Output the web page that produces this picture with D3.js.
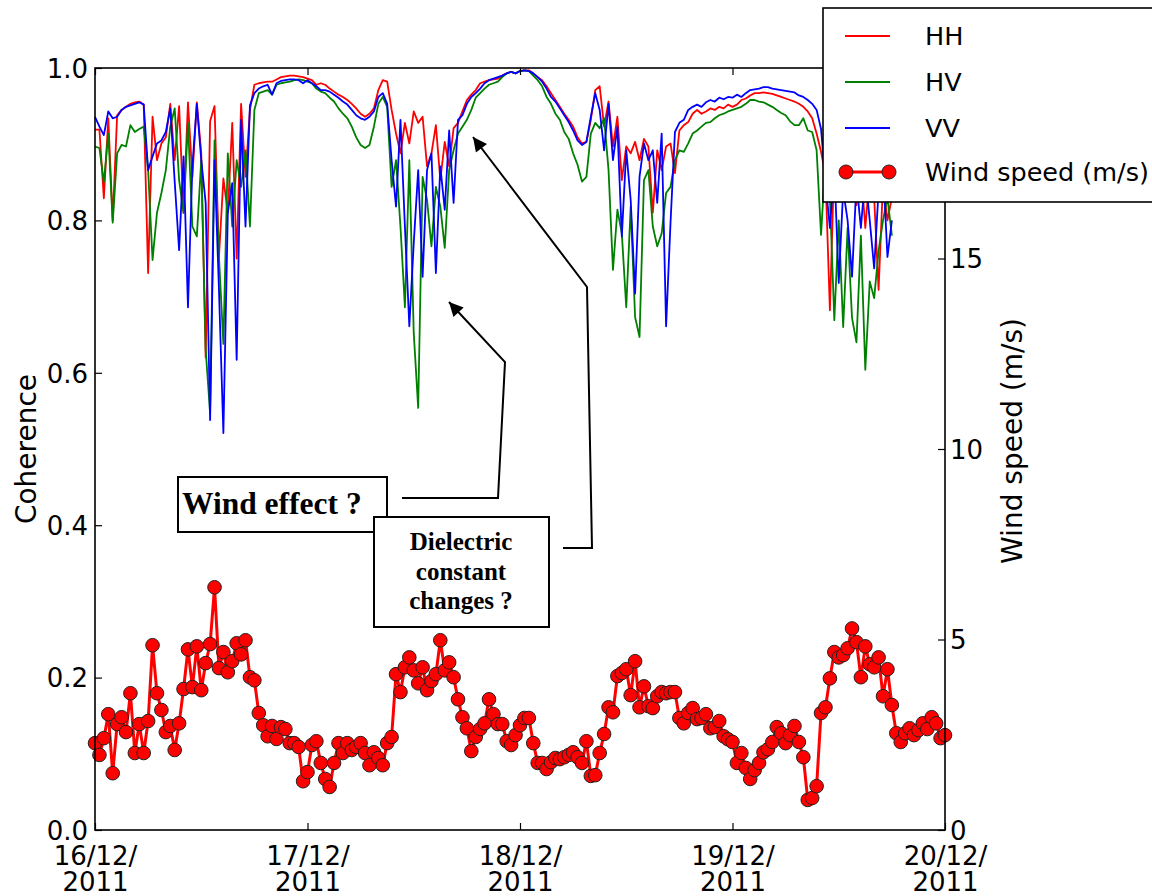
<!DOCTYPE html>
<html>
<head>
<meta charset="utf-8">
<script src="https://cdn.jsdelivr.net/npm/d3@7"></script>
<style>
  body { margin: 0; background: #fff; }
  svg { display: block; }
  .tick text { font-family: "DejaVu Sans", sans-serif; font-size: 26px; fill: #000; }
  .lbl { font-family: "DejaVu Sans", sans-serif; font-size: 25.5px; fill: #000; }
  .title { font-family: "DejaVu Sans", sans-serif; font-size: 28px; fill: #000; }
  .note { font-family: "Liberation Serif", "Times New Roman", serif; font-weight: bold; fill: #000; }
</style>
</head>
<body>
<svg id="chart" width="1152" height="896"></svg>
<script>
// coherence every 30 min from 16/12/2011 00:00 (ends a bit before 20/12)
var HH = [
  0.919,0.919,0.829,0.934,0.80,0.938,0.945,0.949,0.953,0.955,
  0.956,0.952,0.731,0.936,0.879,0.901,0.909,0.953,0.879,0.95,
  0.81,0.955,0.857,0.955,0.888,0.62,0.93,0.95,0.752,0.855,
  0.81,0.928,0.75,0.953,0.857,0.945,0.978,0.98,0.981,0.982,
  0.982,0.985,0.988,0.989,0.99,0.99,0.989,0.988,0.986,
  0.984,0.978,0.98,0.978,0.973,0.969,0.965,0.962,0.958,0.953,
  0.947,0.94,0.936,0.94,0.947,0.971,0.984,0.982,0.945,0.914,
  0.888,0.928,0.901,0.943,0.928,0.936,0.871,0.888,0.925,0.853,
  0.903,0.871,0.921,0.928,0.943,0.958,0.965,0.971,0.98,0.982,
  0.984,0.985,0.986,0.99,0.993,0.995,0.993,0.996,0.997,0.997,
  0.993,0.988,0.984,0.976,0.967,0.958,0.949,0.94,0.932,0.923,
  0.909,0.901,0.903,0.932,0.971,0.976,0.923,0.956,0.897,0.936,
  0.853,0.897,0.888,0.903,0.879,0.907,0.897,0.81,0.892,0.866,
  0.897,0.901,0.862,0.918,0.925,0.929,0.94,0.945,0.94,0.943,
  0.947,0.945,0.949,0.947,0.952,0.949,0.952,
  0.958,0.96,0.964,0.967,0.967,0.968,0.967,0.966,0.964,0.962,
  0.96,0.958,0.956,0.953,0.949,0.943,0.934,0.914,
  0.89,0.86,0.682,0.88,0.83,0.87,0.84,0.88,0.82,0.87,
  0.79,0.86,0.83,0.709,0.85,0.80,0.83
];
var HV = [
  0.897,0.895,0.85,0.914,0.797,0.888,0.899,0.897,0.925,0.916,
  0.92,0.923,0.866,0.748,0.81,0.836,0.866,0.923,0.947,0.853,
  0.81,0.928,0.792,0.779,0.879,0.63,0.547,0.905,0.752,0.638,
  0.888,0.792,0.879,0.844,0.892,0.792,0.945,0.967,0.969,0.971,
  0.965,0.978,0.98,0.981,0.982,0.984,0.985,0.984,0.982,
  0.98,0.973,0.969,0.967,0.961,0.956,0.947,0.94,0.934,0.923,
  0.909,0.899,0.895,0.899,0.923,0.953,0.962,0.949,0.844,0.879,
  0.792,0.686,0.879,0.652,0.554,0.857,0.827,0.766,0.844,0.818,
  0.764,0.866,0.892,0.914,0.923,0.932,0.945,0.961,0.967,0.973,
  0.978,0.98,0.982,0.988,0.993,0.995,0.993,0.996,0.997,0.996,
  0.99,0.984,0.976,0.962,0.953,0.94,0.932,0.916,0.907,0.888,
  0.873,0.851,0.857,0.914,0.928,0.921,0.934,0.866,0.735,0.814,
  0.783,0.686,0.818,0.673,0.647,0.853,0.866,0.792,0.766,0.783,
  0.836,0.844,0.879,0.892,0.89,0.901,0.914,0.918,0.923,0.928,
  0.929,0.934,0.938,0.94,0.943,0.945,0.947,
  0.949,0.953,0.958,0.958,0.956,0.955,0.952,0.949,0.945,0.941,
  0.938,0.93,0.925,0.925,0.934,0.918,0.916,0.892,
  0.781,0.88,0.83,0.669,0.80,0.66,0.79,0.672,0.64,0.78,
  0.604,0.72,0.698,0.76,0.80,0.83,0.78
];
var VV = [
  0.936,0.923,0.912,0.943,0.934,0.936,0.945,0.949,0.951,0.953,
  0.955,0.952,0.866,0.884,0.901,0.905,0.916,0.947,0.851,0.761,
  0.884,0.686,0.871,0.953,0.879,0.823,0.538,0.879,0.709,0.521,
  0.81,0.849,0.617,0.932,0.792,0.951,0.967,0.973,0.976,0.978,
  0.965,0.98,0.983,0.984,0.985,0.985,0.984,0.98,0.984,
  0.98,0.976,0.971,0.971,0.969,0.965,0.961,0.956,0.952,0.945,
  0.938,0.934,0.932,0.936,0.943,0.962,0.967,0.953,0.879,0.818,
  0.932,0.792,0.661,0.77,0.866,0.726,0.866,0.888,0.731,0.871,
  0.814,0.918,0.823,0.932,0.938,0.953,0.962,0.967,0.973,0.98,
  0.984,0.986,0.988,0.99,0.993,0.995,0.993,0.996,0.997,0.996,
  0.993,0.988,0.982,0.973,0.962,0.956,0.947,0.938,0.929,0.918,
  0.905,0.899,0.903,0.936,0.967,0.945,0.892,0.953,0.879,0.923,
  0.779,0.892,0.827,0.704,0.857,0.901,0.879,0.892,0.823,0.914,
  0.661,0.797,0.916,0.928,0.932,0.945,0.949,0.952,0.949,0.955,
  0.958,0.956,0.961,0.959,0.962,0.961,0.965,
  0.962,0.967,0.971,0.972,0.973,0.975,0.975,0.973,0.972,0.971,
  0.97,0.969,0.968,0.964,0.962,0.958,0.953,0.945,
  0.92,0.85,0.79,0.87,0.718,0.84,0.80,0.726,0.85,0.79,
  0.86,0.80,0.737,0.84,0.87,0.752,0.80
];
// wind speed (m/s) every 30 min, 16/12 00:00 -> 20/12 00:00
var WIND = [
  2.28,1.97,2.41,3.04,1.49,2.78,2.96,2.57,3.59,2.02,
  2.78,2.02,2.86,4.85,3.59,3.15,2.57,2.73,2.10,2.80,
  3.70,4.74,3.75,4.82,3.67,4.38,4.88,6.37,4.25,4.67,
  4.14,4.43,4.90,4.61,4.98,4.01,3.93,3.07,2.75,2.46,
  2.73,2.39,2.70,2.65,2.28,2.28,2.18,1.28,1.52,
  2.23,2.33,1.76,1.34,1.13,1.76,2.28,2.02,2.28,2.10,
  2.18,2.28,2.02,1.70,2.04,1.89,1.70,2.28,2.44,4.09,
  3.62,4.27,4.53,4.19,3.85,4.27,3.67,3.91,4.09,4.98,
  4.19,4.40,4.01,3.43,2.96,2.67,2.07,2.44,2.65,2.80,
  3.43,3.04,2.78,2.78,2.33,2.23,2.49,2.75,2.94,2.94,
  2.28,1.76,1.76,1.60,1.78,1.89,1.86,1.91,1.97,2.04,
  1.91,1.76,2.33,1.42,1.44,2.02,2.52,3.22,3.09,4.04,
  4.12,4.22,3.54,4.43,3.22,3.77,3.25,3.20,3.51,3.62,
  3.59,3.62,3.62,2.94,2.80,3.07,3.20,2.91,2.94,3.04,
  2.67,2.70,2.86,2.46,2.38,2.31,1.76,
  2.02,1.63,1.34,1.57,1.76,2.04,2.12,2.31,2.70,2.54,
  2.28,2.49,2.73,2.31,1.91,0.79,0.84,1.15,3.07,3.22,
  3.98,4.67,4.53,4.59,4.77,5.29,4.93,4.01,4.82,4.35,
  4.27,4.53,3.51,4.22,3.28,2.54,2.31,2.54,2.67,2.49,
  2.62,2.80,2.65,2.96,2.80,2.41,2.49
];
var SERIES = [
  {name: "HH", values: HH, color: "#ff0000"},
  {name: "HV", values: HV, color: "#008000"},
  {name: "VV", values: VV, color: "#0000ff"}
];
var COH_TICKS = [0, 0.2, 0.4, 0.6, 0.8, 1.0];
var WIND_TICKS = [0, 5, 10, 15];   // the 20 label sits under the legend
var T0 = new Date(2011, 11, 16), T1 = new Date(2011, 11, 20);

function timeAt(i) { return d3.timeMinute.offset(T0, 30 * i); }

var svg = d3.select("#chart");
var L = 95, R = 945, T = 68, B = 830;

var x = d3.scaleTime().domain([T0, T1]).range([L, R]);
var yL = d3.scaleLinear().domain([0, 1]).range([B, T]);
var yR = d3.scaleLinear().domain([0, 20]).range([B, T]);

// coherence lines
var line = d3.line()
  .x(function(d, i){ return x(timeAt(i)); })
  .y(function(d){ return yL(d); });

svg.append("g").selectAll("path")
  .data(SERIES)
.enter().append("path")
  .attr("d", function(s){ return line(s.values); })
  .attr("fill", "none")
  .attr("stroke", function(s){ return s.color; })
  .attr("stroke-width", 1.8)
  .attr("stroke-linejoin", "round");

// wind
var windLine = d3.line()
  .x(function(d, i){ return x(timeAt(i)); })
  .y(function(d){ return yR(d); });

svg.append("path")
  .attr("d", windLine(WIND))
  .attr("fill", "none")
  .attr("stroke", "#ff0000")
  .attr("stroke-width", 3);

svg.append("g").selectAll("circle")
  .data(WIND)
.enter().append("circle")
  .attr("cx", function(d, i){ return x(timeAt(i)); })
  .attr("cy", function(d){ return yR(d); })
  .attr("r", 6.8)
  .attr("fill", "#ff0000")
  .attr("stroke", "#222")
  .attr("stroke-width", 1);

// axes (ticks point inward like matplotlib)
var gl = svg.append("g").attr("transform", "translate(" + L + ",0)")
  .call(d3.axisLeft(yL).tickValues(COH_TICKS).tickFormat(d3.format(".1f"))
    .tickSizeInner(-7).tickSizeOuter(0).tickPadding(7));
var gr = svg.append("g").attr("transform", "translate(" + R + ",0)")
  .call(d3.axisRight(yR).tickValues(WIND_TICKS).tickFormat(d3.format("d"))
    .tickSizeInner(-7).tickSizeOuter(0).tickPadding(5));
var gb = svg.append("g").attr("transform", "translate(0," + B + ")")
  .call(d3.axisBottom(x).ticks(d3.timeDay.every(1))
    .tickSizeInner(-7).tickSizeOuter(0));
var gt = svg.append("g").attr("transform", "translate(0," + T + ")")
  .call(d3.axisTop(x).ticks(d3.timeDay.every(1)).tickFormat("")
    .tickSizeInner(-7).tickSizeOuter(0));

[gl, gr, gb, gt].forEach(function(g){
  g.select(".domain").remove();
  g.selectAll(".tick line").attr("stroke", "#000").attr("stroke-width", 1.2);
});
gl.selectAll(".tick text").attr("dy", "0.36em");
gr.selectAll(".tick text").attr("dy", "0.36em");

// two-line date labels
var fmtTop = d3.timeFormat("%d/%m/"), fmtBot = d3.timeFormat("%Y");
gb.selectAll(".tick text").each(function(d){
  var t = d3.select(this).text(null).attr("y", 0).attr("dy", null);
  t.append("tspan").attr("x", 0).attr("y", 35).text(fmtTop(d));
  t.append("tspan").attr("x", 0).attr("y", 61).text(fmtBot(d));
});

svg.append("rect")
  .attr("x", L).attr("y", T).attr("width", R - L).attr("height", B - T)
  .attr("fill", "none").attr("stroke", "#000").attr("stroke-width", 1.6);

// axis titles
svg.append("text").attr("class", "title")
  .attr("transform", "translate(36," + ((T + B) / 2) + ") rotate(-90)")
  .attr("text-anchor", "middle").text("Coherence");
svg.append("text").attr("class", "title")
  .attr("transform", "translate(1022," + ((T + B) / 2 - 8) + ") rotate(-90)")
  .attr("text-anchor", "middle").text("Wind speed (m/s)");

// annotations
var defs = svg.append("defs");
defs.append("marker")
  .attr("id", "head").attr("viewBox", "0 0 10 10")
  .attr("refX", 10).attr("refY", 5)
  .attr("markerWidth", 16).attr("markerHeight", 14)
  .attr("markerUnits", "userSpaceOnUse")
  .attr("orient", "auto")
.append("path").attr("d", "M0,0 L10,5 L0,10 z").attr("fill", "#000");

var arrow = d3.line();
svg.append("path")
  .attr("d", arrow([[402, 498], [498, 498], [505, 362], [449, 302]]))
  .attr("fill", "none").attr("stroke", "#000").attr("stroke-width", 2)
  .attr("marker-end", "url(#head)");
svg.append("path")
  .attr("d", arrow([[563, 548], [592, 548], [587, 287], [473, 137]]))
  .attr("fill", "none").attr("stroke", "#000").attr("stroke-width", 2)
  .attr("marker-end", "url(#head)");

svg.append("rect").attr("x", 178).attr("y", 477).attr("width", 209).attr("height", 55)
  .attr("fill", "#fff").attr("stroke", "#000").attr("stroke-width", 2);
svg.append("text").attr("class", "note").attr("x", 182).attr("y", 514)
  .style("font-size", "31.5px").text("Wind effect ?");

svg.append("rect").attr("x", 374).attr("y", 517).attr("width", 175).attr("height", 110)
  .attr("fill", "#fff").attr("stroke", "#000").attr("stroke-width", 2);
var note2 = svg.append("text").attr("class", "note").attr("text-anchor", "middle")
  .style("font-size", "25px");
["Dielectric", "constant", "changes ?"].forEach(function(s, i){
  note2.append("tspan").attr("x", 461).attr("y", 550 + i * 29.5).text(s);
});

// legend
var lg = svg.append("g");
lg.append("rect").attr("x", 823).attr("y", 8).attr("width", 340).attr("height", 194)
  .attr("fill", "#fff").attr("stroke", "#000").attr("stroke-width", 1.6);
SERIES.forEach(function(s, i){
  var yy = 36 + i * 46;
  lg.append("line").attr("x1", 845).attr("x2", 890).attr("y1", yy).attr("y2", yy)
    .attr("stroke", s.color).attr("stroke-width", 1.8);
  lg.append("text").attr("class", "lbl").attr("x", 925).attr("y", yy).attr("dy", "0.36em").text(s.name);
});
var wy = 172;
lg.append("line").attr("x1", 846).attr("x2", 889).attr("y1", wy).attr("y2", wy)
  .attr("stroke", "#ff0000").attr("stroke-width", 3);
lg.selectAll("circle.lg").data([846, 889]).enter().append("circle")
  .attr("cx", function(d){ return d; }).attr("cy", wy).attr("r", 7)
  .attr("fill", "#ff0000").attr("stroke", "#222").attr("stroke-width", 1);
lg.append("text").attr("class", "lbl").attr("x", 925).attr("y", wy).attr("dy", "0.36em").text("Wind speed (m/s)");
</script>
</body>
</html>
